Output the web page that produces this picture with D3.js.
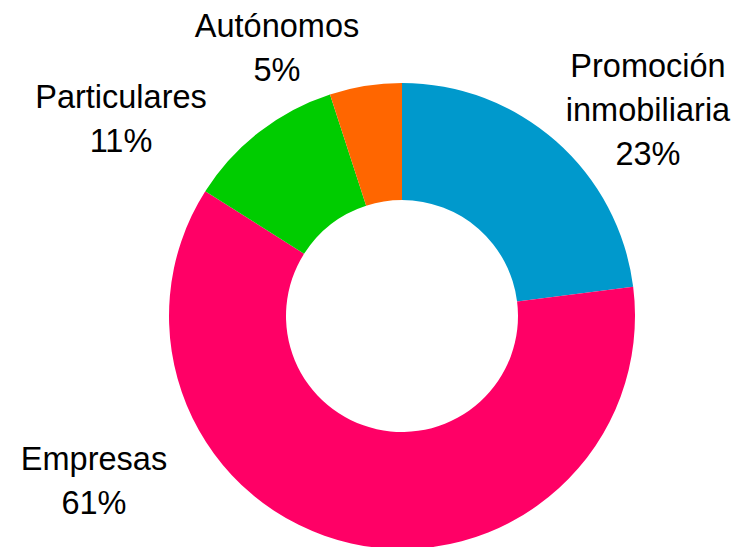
<!DOCTYPE html>
<html><head><meta charset="utf-8">
<script src="https://cdn.jsdelivr.net/npm/d3@7"></script>
<style>html,body{margin:0;padding:0;background:#fff;}</style>
</head><body>
<svg id="chart" width="743" height="547"></svg>
<script>
const categories = ["Promoción inmobiliaria", "Empresas", "Particulares", "Autónomos"];
const values = [23, 61, 11, 5];
const labelLines = [["Promoción", "inmobiliaria", "23%"], ["Empresas", "61%"], ["Particulares", "11%"], ["Autónomos", "5%"]];
const colors = ["#0099CC", "#FF0066", "#00CC00", "#FF6600"];

const svg = d3.select("#chart");
const cx = 402, cy = 316, rOuter = 233, rInner = 116;
const data = categories.map((c, i) => ({cat: c, value: values[i], lines: labelLines[i], color: colors[i]}));
const pie = d3.pie().value(d => d.value).sort(null);
const arc = d3.arc().innerRadius(rInner).outerRadius(rOuter);
const g = svg.append("g").attr("transform", `translate(${cx},${cy})`);
g.selectAll("path").data(pie(data)).join("path")
  .attr("d", arc).attr("fill", d => d.data.color);

// label anchor positions (center x, first baseline y)
const labelPos = [[648, 77], [94, 470], [121, 108], [277, 37]];
const lineH = 44;
data.forEach((d, i) => {
  const t = svg.append("text")
    .attr("font-family", "Liberation Sans, Arial, sans-serif")
    .attr("font-size", 32.5).attr("fill", "#000").attr("text-anchor", "middle");
  d.lines.forEach((ln, j) => {
    t.append("tspan").attr("x", labelPos[i][0]).attr("y", labelPos[i][1] + j * lineH).text(ln);
  });
});
</script>
</body></html>
